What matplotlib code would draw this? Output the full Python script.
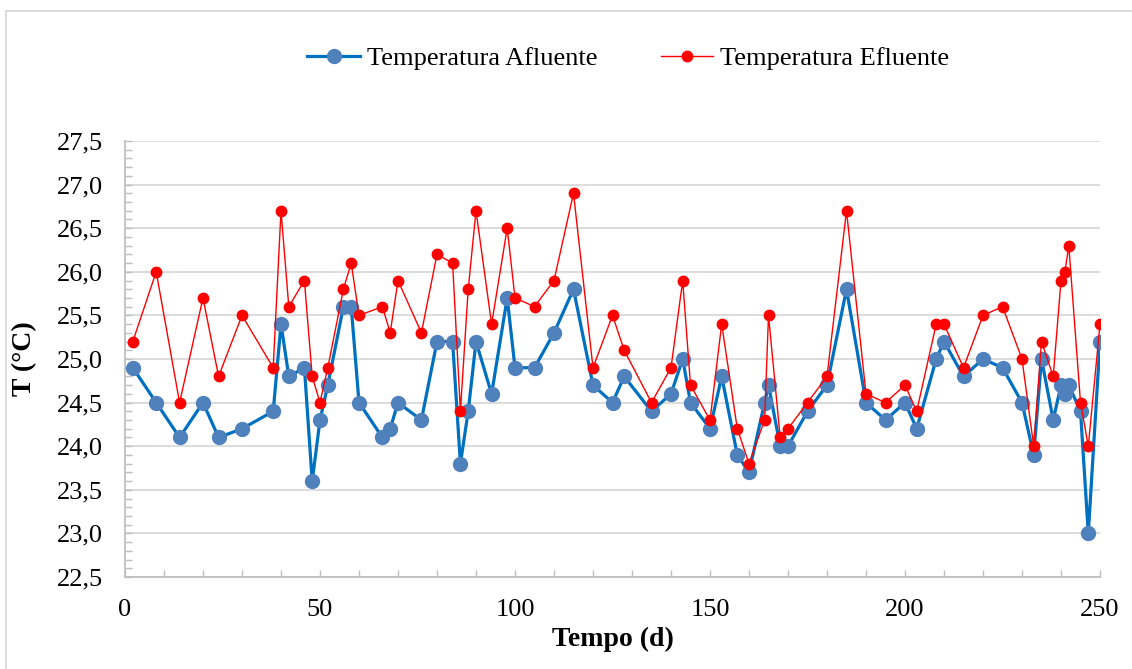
import matplotlib
matplotlib.use("Agg")
import matplotlib.pyplot as plt
from matplotlib.ticker import MultipleLocator, FuncFormatter
from matplotlib.lines import Line2D

plt.rcParams['font.family'] = ['Liberation Serif', 'DejaVu Serif']

# tempo (dias)
dias = [2, 8, 14, 20, 24, 30, 38, 40, 42, 46, 48, 50, 52, 56, 58, 60, 66, 68, 70, 76,
        80, 84, 86, 88, 90, 94, 98, 100, 105, 110, 115, 120, 125, 128, 135, 140, 143, 145,
        150, 153, 157, 160, 164, 165, 168, 170, 175, 180, 185, 190, 195, 200, 203, 208,
        210, 215, 220, 225, 230, 233, 235, 238, 240, 241, 242, 245, 247, 250]

afluente = [24.9, 24.5, 24.1, 24.5, 24.1, 24.2, 24.4, 25.4, 24.8, 24.9, 23.6, 24.3, 24.7,
            25.6, 25.6, 24.5, 24.1, 24.2, 24.5, 24.3, 25.2, 25.2, 23.8, 24.4, 25.2, 24.6,
            25.7, 24.9, 24.9, 25.3, 25.8, 24.7, 24.5, 24.8, 24.4, 24.6, 25.0, 24.5, 24.2,
            24.8, 23.9, 23.7, 24.5, 24.7, 24.0, 24.0, 24.4, 24.7, 25.8, 24.5, 24.3, 24.5,
            24.2, 25.0, 25.2, 24.8, 25.0, 24.9, 24.5, 23.9, 25.0, 24.3, 24.7, 24.6, 24.7,
            24.4, 23.0, 25.2]

efluente = [25.2, 26.0, 24.5, 25.7, 24.8, 25.5, 24.9, 26.7, 25.6, 25.9, 24.8, 24.5, 24.9,
            25.8, 26.1, 25.5, 25.6, 25.3, 25.9, 25.3, 26.2, 26.1, 24.4, 25.8, 26.7, 25.4,
            26.5, 25.7, 25.6, 25.9, 26.9, 24.9, 25.5, 25.1, 24.5, 24.9, 25.9, 24.7, 24.3,
            25.4, 24.2, 23.8, 24.3, 25.5, 24.1, 24.2, 24.5, 24.8, 26.7, 24.6, 24.5, 24.7,
            24.4, 25.4, 25.4, 24.9, 25.5, 25.6, 25.0, 24.0, 25.2, 24.8, 25.9, 26.0, 26.3,
            24.5, 24.0, 25.4]

azul_linha = '#0070C0'
azul_marca = '#4F81BD'
vermelho = '#FF0000'
cinza = '#BFBFBF'

fig = plt.figure(figsize=(11.32, 6.69), dpi=100)
ax = fig.add_axes([125 / 1132, 1 - 577 / 669, 975 / 1132, 436 / 669])

ax.plot(dias, afluente, color=azul_linha, lw=2.3, marker='o', ms=10,
        mfc=azul_marca, mec=azul_marca, zorder=3)
ax.plot(dias, efluente, color=vermelho, lw=1.0, marker='o', ms=7.5,
        mfc=vermelho, mec=vermelho, zorder=4)

ax.set_xlim(0, 250)
ax.set_ylim(22.5, 27.5)
ax.xaxis.set_major_locator(MultipleLocator(50))
ax.xaxis.set_minor_locator(MultipleLocator(10))
ax.yaxis.set_major_locator(MultipleLocator(0.5))
ax.yaxis.set_minor_locator(MultipleLocator(0.1))
ax.yaxis.set_major_formatter(FuncFormatter(lambda v, p: f"{v:.1f}".replace('.', ',')))

ax.grid(axis='y', which='major', color='#D9D9D9', lw=1.3, zorder=0)
for s in ['top', 'right']:
    ax.spines[s].set_visible(False)
for s in ['left', 'bottom']:
    ax.spines[s].set_color(cinza)
    ax.spines[s].set_linewidth(1.3)

ax.tick_params(axis='both', which='both', direction='in', color=cinza, width=1.0)
ax.tick_params(axis='both', which='major', length=5, labelsize=19)
ax.tick_params(axis='both', which='minor', length=5)
ax.tick_params(axis='x', which='major', pad=16)
ax.tick_params(axis='y', which='major', pad=16)

ax.set_xlabel('Tempo (d)', fontsize=20, fontweight='bold', labelpad=4)
ax.set_ylabel('T (°C)', fontsize=20, fontweight='bold', labelpad=14)

handles = [
    Line2D([], [], color=azul_linha, lw=2.3, marker='o', ms=10, mfc=azul_marca, mec=azul_marca),
    Line2D([], [], color=vermelho, lw=1.0, marker='o', ms=7.5, mfc=vermelho, mec=vermelho),
]
fig.legend(handles, ['Temperatura Afluente', 'Temperatura Efluente'],
           loc='center', bbox_to_anchor=(0.555, 0.913), ncol=2, frameon=False,
           fontsize=19, handlelength=2.0, handletextpad=0.25, columnspacing=2.4)

# borda do gráfico
fig.add_artist(Line2D([6 / 1132, 6 / 1132], [0, 1 - 11 / 669], color='#D9D9D9', lw=1.3))
fig.add_artist(Line2D([6 / 1132, 1], [1 - 11 / 669, 1 - 11 / 669], color='#D9D9D9', lw=1.3))

fig.savefig('out.png', dpi=100)
